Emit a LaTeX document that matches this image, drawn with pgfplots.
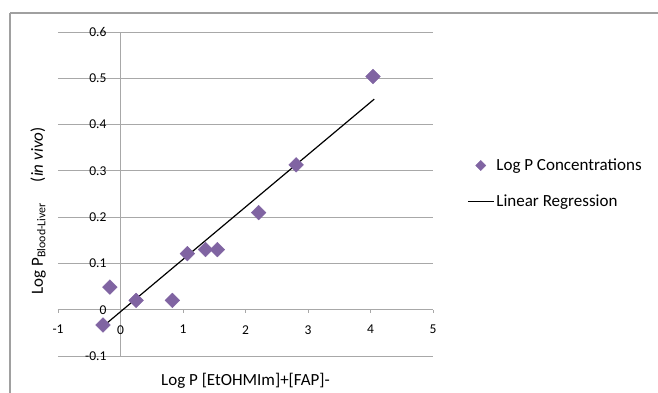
\documentclass[border=0pt]{standalone}
\usepackage{pgfplots}
\pgfplotsset{compat=1.18}
\usepackage{fontspec}
\setmainfont{Carlito}
\definecolor{mpurple}{RGB}{128,100,162}
\definecolor{gridgray}{RGB}{168,168,168}
\definecolor{framegray}{RGB}{160,160,160}
\pgfplotsset{
  legmark/.style={legend image code/.code={\draw[mark repeat=2,mark phase=2,##1, mark size=3.6pt] plot coordinates {(0pt,0pt)(13pt,0pt)(26pt,0pt)};}},
  legline/.style={legend image code/.code={\draw[##1] (0pt,0pt) -- (26pt,0pt);}},
}
\begin{document}
\begin{tikzpicture}[x=1pt,y=1pt]
\useasboundingbox (0,0) rectangle (658,392);
\draw[framegray, line width=1.6pt] (10,392-13) -- (700,392-13);
\draw[framegray, line width=1.6pt] (10,392-13) -- (10,-20);
\begin{axis}[
  at={(58pt,36pt)}, anchor=south west,
  scale only axis, width=375pt, height=324pt,
  xmin=-1, xmax=5, ymin=-0.1, ymax=0.6,
  axis lines=middle,
  axis line style={gridgray, line width=0.8pt, -},
  hide obscured x ticks=false, hide obscured y ticks=false,
  xtick={-1,0,1,2,3,4,5}, ytick={-0.1,0,0.1,0.2,0.3,0.4,0.5,0.6},
  yticklabel style={/pgf/number format/fixed, /pgf/number format/precision=1},
  ymajorgrids, major grid style={gridgray, line width=0.8pt},
  tick style={gridgray, line width=0.8pt},
  xtick align=outside, major tick length=3pt,
  ytick style={draw=none},
  tick label style={font=\fontsize{13.5}{15}\selectfont},
  /pgf/number format/assume math mode=true,
  xticklabel style={yshift=-9pt},
  yticklabel style={xshift=-9pt},
  xlabel={Log P [EtOHMIm]+[FAP]-},
  ylabel={Log P\textsubscript{Blood-Liver}\hspace{1.2em}(\textit{in vivo})},
  label style={font=\fontsize{17}{19}\selectfont},
  xlabel style={at={(axis description cs:0.5,-0.077)}, anchor=center},
  ylabel style={at={(axis description cs:-0.053,0.4475)}, anchor=center, rotate=90},
  legend style={draw=none, fill=none, at={(axis description cs:1.0907,0.532)}, anchor=west,
    font=\fontsize{17}{19}\selectfont, row sep=19pt, inner sep=0pt,
    nodes={inner xsep=2pt, inner ysep=2pt}},
  legend cell align=left,
  clip=false,
]
\addplot[only marks, mark=square*, mark size=5.2pt, mark options={rotate=45, fill=mpurple, draw=mpurple}, legmark]
coordinates {
(-0.28,-0.033) (-0.17,0.049) (0.25,0.02) (0.83,0.02) (1.07,0.121)
(1.36,0.13) (1.55,0.13) (2.21,0.21) (2.81,0.313) (4.04,0.504)
};
\addlegendentry{Log P Concentrations}
\addplot[black, line width=1.2pt, no marks, legline]
coordinates {(-0.28,-0.036) (4.06,0.455)};
\addlegendentry{Linear Regression}
\end{axis}
\end{tikzpicture}
\end{document}
